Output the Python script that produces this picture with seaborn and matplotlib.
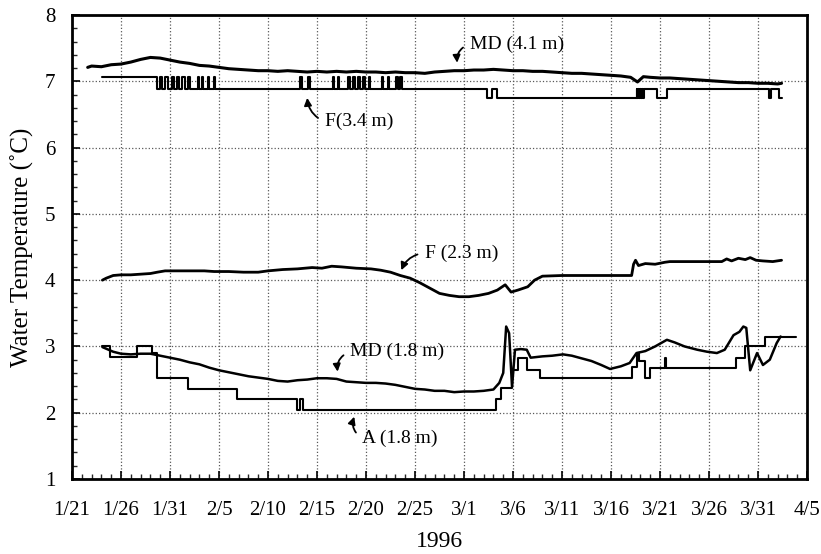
import numpy as np
import pandas as pd
import matplotlib
matplotlib.use("Agg")
import matplotlib.pyplot as plt
import seaborn as sns

# ---------------- data (x = days since 1/21/1996) ----------------
tick_days = [0, 5, 10, 15, 20, 25, 30, 35, 40, 45, 50, 55, 60, 65, 70, 75]
tick_labels = ['1/21', '1/26', '1/31', '2/5', '2/10', '2/15', '2/20', '2/25',
               '3/1', '3/6', '3/11', '3/16', '3/21', '3/26', '3/31', '4/5']

md41_x = [1.6, 2, 3, 4, 5, 6, 7, 8, 9, 10, 11, 12, 13, 14, 15, 16, 17, 18, 19, 20,
          21, 22, 23, 24, 25, 26, 27, 28, 29, 30, 31, 32, 33, 34, 35, 36, 37, 38, 39,
          40, 41, 42, 43, 44, 45, 46, 47, 48, 49, 50, 51, 52, 53, 54, 55, 56, 57, 57.7,
          58.3, 59, 60, 61, 62, 63, 64, 65, 66, 67, 68, 69, 70, 71, 72, 72.4]
md41_y = [7.21, 7.23, 7.22, 7.25, 7.26, 7.29, 7.33, 7.36, 7.35, 7.32, 7.29, 7.27, 7.24,
          7.23, 7.21, 7.19, 7.18, 7.17, 7.16, 7.16, 7.15, 7.16, 7.15, 7.14, 7.15, 7.14,
          7.15, 7.14, 7.15, 7.14, 7.14, 7.13, 7.14, 7.13, 7.13, 7.12, 7.14, 7.15, 7.16,
          7.16, 7.17, 7.17, 7.18, 7.17, 7.16, 7.16, 7.15, 7.15, 7.14, 7.13, 7.12, 7.12,
          7.11, 7.10, 7.09, 7.08, 7.06, 6.99, 7.07, 7.06, 7.05, 7.05, 7.04, 7.03, 7.02,
          7.01, 7.00, 6.99, 6.98, 6.98, 6.97, 6.97, 6.96, 6.97]

f34_x = [3.1, 8.7, 9.0, 9.2, 9.5, 9.8, 10.2, 10.4, 10.7, 10.9, 11.2, 11.5, 11.8, 12.0,
         12.9, 13.0, 13.3, 13.4, 13.9, 14.0, 14.5, 14.6, 23.3, 23.45, 24.1, 24.25,
         26.6, 26.75, 27.1, 27.25, 28.2, 28.35, 28.7, 28.85, 29.2, 29.4, 29.7, 29.85,
         30.3, 30.45, 31.6, 31.75, 32.2, 32.35, 33.1, 33.25, 33.5, 33.65,
         42.3, 42.9, 43.4, 57.6, 57.7, 57.8, 57.9, 58.0, 58.1, 58.2, 58.3, 58.4,
         59.7, 60.7, 71.1, 71.3, 72.1, 72.4]
f34_y = [7.06, 6.89, 7.06, 6.89, 7.06, 6.89, 7.06, 6.89, 7.06, 6.89, 7.06, 6.89, 7.06, 6.89,
         7.06, 6.89, 7.06, 6.89, 7.06, 6.89, 7.06, 6.89, 7.06, 6.89, 7.06, 6.89,
         7.06, 6.89, 7.06, 6.89, 7.06, 6.89, 7.06, 6.89, 7.06, 6.89, 7.06, 6.89,
         7.06, 6.89, 7.06, 6.89, 7.06, 6.89, 7.06, 6.89, 7.06, 6.89,
         6.75, 6.89, 6.75, 6.89, 6.75, 6.89, 6.75, 6.89, 6.75, 6.89, 6.75, 6.89,
         6.75, 6.89, 6.75, 6.89, 6.75, 6.75]

f23_x = [3.1, 3.5, 4.2, 5, 6, 7, 8, 8.7, 9.5, 10.5, 12, 13.5, 14.5, 16, 17.5, 19, 20,
         21.5, 23, 24.5, 25.5, 26.5, 27.5, 29, 30.5, 31.5, 32.5, 33.5, 34.5, 35.5, 36.5,
         37.5, 38.5, 39.5, 40.5, 41.5, 42.5, 43.4, 44.2, 44.8, 45.5, 46.5, 47.2, 48, 50,
         52, 54, 56, 57.1, 57.3, 57.5, 57.8, 58.5, 59.5, 60.5, 61, 63, 65, 66.3, 66.8,
         67.3, 68, 68.7, 69.2, 69.8, 70.5, 71.5, 72.4]
f23_y = [4.00, 4.03, 4.07, 4.08, 4.08, 4.09, 4.10, 4.12, 4.14, 4.14, 4.14, 4.14, 4.13,
         4.13, 4.12, 4.12, 4.14, 4.16, 4.17, 4.19, 4.18, 4.21, 4.20, 4.18, 4.17, 4.15,
         4.12, 4.07, 4.03, 3.96, 3.88, 3.80, 3.77, 3.75, 3.75, 3.77, 3.80, 3.85, 3.93,
         3.82, 3.85, 3.90, 4.00, 4.06, 4.07, 4.07, 4.07, 4.07, 4.07, 4.24, 4.30, 4.22,
         4.25, 4.24, 4.27, 4.28, 4.28, 4.28, 4.28, 4.32, 4.29, 4.33, 4.31, 4.34, 4.30,
         4.29, 4.28, 4.30]

md18_x = [3.1, 4.2, 5, 6, 7, 8, 9, 10, 11, 12, 13, 14, 15, 16, 17, 18, 19, 20, 21, 22,
          23, 24, 25, 26, 27, 28, 29, 30, 31, 32, 33, 34, 35, 36, 37, 38, 39, 40, 41, 42,
          43, 43.6, 44.0, 44.3, 44.6, 44.9, 45.2, 45.8, 46.4, 46.8, 48, 49, 50.1, 51, 52,
          53, 54, 54.9, 56, 56.9, 57.6, 58.5, 59.5, 60.7, 61.5, 62.5, 63.8, 64.8, 65.8,
          66.6, 67.5, 68.1, 68.5, 68.8, 69.2, 69.9, 70.5, 71.2, 71.9, 72.3]
md18_y = [2.99, 2.92, 2.89, 2.88, 2.89, 2.89, 2.86, 2.83, 2.80, 2.76, 2.73, 2.68, 2.64,
          2.61, 2.58, 2.55, 2.53, 2.51, 2.48, 2.47, 2.49, 2.50, 2.52, 2.52, 2.51, 2.47,
          2.46, 2.45, 2.45, 2.44, 2.42, 2.39, 2.36, 2.35, 2.33, 2.33, 2.31, 2.32, 2.32,
          2.33, 2.35, 2.45, 2.60, 3.30, 3.20, 2.39, 2.95, 2.96, 2.95, 2.83, 2.85, 2.86,
          2.88, 2.86, 2.82, 2.78, 2.72, 2.66, 2.70, 2.75, 2.90, 2.93, 3.00, 3.10, 3.06,
          3.00, 2.95, 2.92, 2.90, 2.95, 3.17, 3.22, 3.30, 3.28, 2.64, 2.90, 2.72, 2.80,
          3.05, 3.15]

a18_x = [3.1, 3.9, 6.6, 8.2, 8.7, 11.8, 16.8, 23.0, 23.3, 23.6, 43.3, 43.8, 44.9, 45.5,
         46.4, 47.8, 57.1, 57.6, 57.9, 58.5, 59.0, 60.5, 60.6, 67.8, 68.7, 70.7, 73.9]
a18_y = [3.00, 2.84, 3.00, 2.90, 2.52, 2.36, 2.20, 2.04, 2.20, 2.04, 2.20, 2.37, 2.64,
         2.83, 2.64, 2.52, 2.69, 2.90, 2.78, 2.52, 2.67, 2.83, 2.67, 2.83, 3.00, 3.14, 3.14]

# ---------------- plot ----------------
sns.set_theme(style="white")
plt.rcParams['font.family'] = ['Liberation Serif', 'DejaVu Serif']
serif = ['Liberation Serif', 'DejaVu Serif']

fig = plt.figure(figsize=(8.21, 5.54), dpi=100)
ax = fig.add_axes([0.0877, 0.1354, 0.8953, 0.8375])

def draw(x, y, step=False, lw=1.8):
    df = pd.DataFrame({'day': x, 'temp': y})
    kw = dict(drawstyle='steps-post') if step else {}
    sns.lineplot(data=df, x='day', y='temp', ax=ax, color='black', linewidth=lw,
                 estimator=None, sort=False, **kw)

draw(md41_x, md41_y, lw=2.2)
draw(f34_x, f34_y, step=True, lw=1.5)
draw(f23_x, f23_y, lw=2.0)
draw(md18_x, md18_y, lw=1.8)
draw(a18_x, a18_y, step=True, lw=1.5)

ax.set_xlim(0, 75)
ax.set_ylim(1, 8)
ax.set_xticks(tick_days)
ax.set_xticklabels(tick_labels)
ax.set_yticks([1, 2, 3, 4, 5, 6, 7, 8])
ax.set_xticks(np.arange(0, 76, 1), minor=True)
ax.set_yticks(np.arange(1, 8.01, 0.2), minor=True)
ax.tick_params(axis='both', which='major', direction='in', length=6, width=1.2,
               labelsize=15, colors='black', bottom=True, left=True)
ax.tick_params(axis='both', which='minor', direction='in', length=3.5, width=1.0,
               bottom=True, left=True)
ax.tick_params(axis='x', which='major', pad=16)
ax.tick_params(axis='y', which='major', pad=12)
for lab in ax.get_xticklabels() + ax.get_yticklabels():
    lab.set_family(serif)

ax.grid(True, which='major', linestyle=':', color='0.35', linewidth=0.9)
for s in ax.spines.values():
    s.set_visible(True)
    s.set_color('black')
    s.set_linewidth(2.0)

ax.set_xlabel('1996', fontsize=17, family=serif, labelpad=8, color='black')
ax.set_ylabel('Water Temperature (˚C)', fontsize=18, family=serif, labelpad=8, color='black')

ann = [
    ('MD (4.1 m)', (39.3, 7.28), (40.6, 7.56), 0.4),
    ('F(3.4 m)', (24.0, 6.75), (25.8, 6.39), -0.3),
    ('F (2.3 m)', (33.6, 4.15), (36.0, 4.41), 0.3),
    ('MD (1.8 m)', (27.1, 2.62), (28.4, 2.92), 0.4),
    ('A (1.8 m)', (28.8, 1.94), (29.6, 1.62), -0.4),
]
for txt, tip, pos, rad in ann:
    ax.annotate(txt, xy=tip, xytext=pos, ha='left', va='center', fontsize=14,
                family=serif, color='black',
                arrowprops=dict(arrowstyle='-|>', connectionstyle=f'arc3,rad={rad}',
                                color='black', lw=1.3, mutation_scale=11,
                                relpos=(0.0, 0.5), shrinkA=3, shrinkB=0))

fig.savefig('out.png', dpi=100)
